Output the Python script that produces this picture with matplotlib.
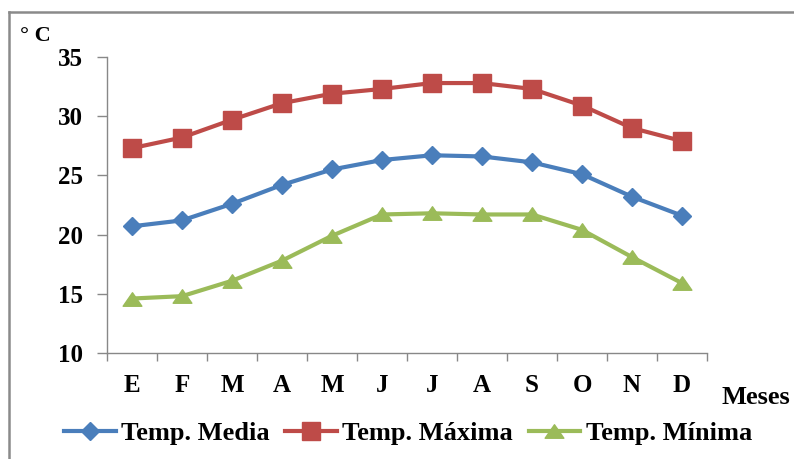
import matplotlib as mpl
mpl.use('Agg')
import matplotlib.pyplot as plt
from matplotlib.lines import Line2D
from matplotlib.path import Path

meses = ['E', 'F', 'M', 'A', 'M', 'J', 'J', 'A', 'S', 'O', 'N', 'D']
temp_media = [20.7, 21.2, 22.6, 24.2, 25.5, 26.3, 26.7, 26.6, 26.1, 25.1, 23.2, 21.6]
temp_maxima = [27.3, 28.2, 29.7, 31.1, 31.9, 32.3, 32.8, 32.8, 32.3, 30.9, 29.0, 27.9]
temp_minima = [14.6, 14.8, 16.1, 17.8, 19.9, 21.7, 21.8, 21.7, 21.7, 20.4, 18.1, 15.9]

plt.rcParams['font.family'] = 'Liberation Serif'
plt.rcParams['font.weight'] = 'bold'

fig = plt.figure(figsize=(7.94, 4.59), dpi=100)

# marco exterior del grafico (solo borde superior e izquierdo)
fig.add_artist(Line2D([9/794, 1], [1 - 12/459, 1 - 12/459], transform=fig.transFigure,
                      color='#8a8a8a', lw=1.8))
fig.add_artist(Line2D([9/794, 9/794], [0, 1 - 12/459], transform=fig.transFigure,
                      color='#8a8a8a', lw=1.8))

ax = fig.add_axes([107/794, 1 - 353/459, 600/794, 296/459])

# triangulo achatado como el de Excel
tri = Path([(-1, -0.72), (1, -0.72), (0, 0.72), (-1, -0.72)],
           [Path.MOVETO, Path.LINETO, Path.LINETO, Path.CLOSEPOLY])

x = list(range(len(meses)))
ax.plot(x, temp_media, color='#4A7EBB', lw=3, marker='D', markersize=9.5,
        label='Temp. Media')
ax.plot(x, temp_maxima, color='#BE4B48', lw=3, marker='s', markersize=13,
        label='Temp. Máxima')
ax.plot(x, temp_minima, color='#9BBB59', lw=3, marker=tri, markersize=13.5,
        label='Temp. Mínima')

ax.set_xlim(-0.5, 11.5)
ax.set_ylim(10, 35)
ax.set_yticks([10, 15, 20, 25, 30, 35])
ax.set_xticks(x)
ax.set_xticklabels(meses)
ax.set_xticks([i - 0.5 for i in range(13)], minor=True)

ax.tick_params(axis='x', which='major', length=0, pad=15, labelsize=18)
ax.tick_params(axis='x', which='minor', length=6, color='#888888', width=1)
ax.tick_params(axis='y', length=7, color='#888888', width=1, pad=10.5, labelsize=18)

for s in ['top', 'right']:
    ax.spines[s].set_visible(False)
for s in ['left', 'bottom']:
    ax.spines[s].set_color('#888888')
    ax.spines[s].set_linewidth(1)

fig.text(20/794, 1 - 36/459, '° C', fontsize=16, fontweight='bold', va='center', ha='left')
fig.text(756/794, 1 - 397/459, 'Meses', fontsize=19, fontweight='bold', va='center', ha='center')

fig.legend(loc='center', bbox_to_anchor=(408/794, 1 - 433/459), ncol=3, frameon=False,
           fontsize=19, handlelength=1.95, handletextpad=0.2, columnspacing=0.6,
           borderpad=0, borderaxespad=0)

fig.savefig('out.png', dpi=100)
